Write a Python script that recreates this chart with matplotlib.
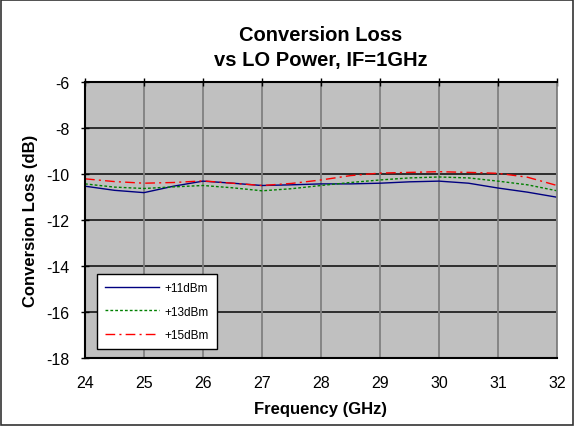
import matplotlib
matplotlib.use("Agg")
import matplotlib.pyplot as plt
from matplotlib.patches import Rectangle

freq = [24, 24.5, 25, 25.5, 26, 26.5, 27, 27.5, 28, 28.5, 29, 29.5, 30, 30.5, 31, 31.5, 32]
loss_11 = [-10.53, -10.71, -10.81, -10.53, -10.31, -10.40, -10.50, -10.47, -10.43, -10.43, -10.40, -10.34, -10.31, -10.40, -10.61, -10.79, -11.01]
loss_13 = [-10.43, -10.57, -10.63, -10.56, -10.50, -10.60, -10.73, -10.64, -10.50, -10.37, -10.26, -10.17, -10.13, -10.17, -10.31, -10.47, -10.73]
loss_15 = [-10.21, -10.33, -10.40, -10.37, -10.30, -10.40, -10.50, -10.41, -10.26, -10.07, -9.96, -9.93, -9.90, -9.93, -9.97, -10.14, -10.50]
labels = ["+11dBm", "+13dBm", "+15dBm"]
xticks = [24, 25, 26, 27, 28, 29, 30, 31, 32]
yticks = [-18, -16, -14, -12, -10, -8, -6]

plt.rcParams['font.family'] = ['Liberation Sans', 'DejaVu Sans']

fig = plt.figure(figsize=(5.74, 4.27), dpi=100)
ax = fig.add_axes([85/574, 1 - 359/427, (557 - 85)/574, (359 - 83)/427])
ax.set_facecolor('#c0c0c0')

ax.plot(freq, loss_11, color='#000080', lw=1.0, ls='-', label=labels[0])
ax.plot(freq, loss_13, color='#008000', lw=1.0, ls=(0, (2, 1.5)), label=labels[1])
ax.plot(freq, loss_15, color='#ff0000', lw=1.0, ls=(0, (7, 3, 1.5, 3)), label=labels[2])

ax.set_xlim(24, 32)
ax.set_ylim(-18, -6)
ax.set_xticks(xticks)
ax.set_yticks(yticks)
ax.set_xticklabels([str(v) for v in xticks], fontsize=11.5)
ax.set_yticklabels([str(v) for v in yticks], fontsize=11.5)

for y in yticks:
    ax.axhline(y, color='#222222', lw=1.3, zorder=1)
for x in xticks[1:]:
    ax.axvline(x, color='#808080', lw=1.3, zorder=1)

ax.tick_params(axis='y', direction='inout', length=6, width=1, left=True, pad=8)
ax.tick_params(axis='x', direction='inout', length=6, width=1, bottom=False, top=True,
               labelbottom=True, labeltop=False, pad=9)

for s in ['left', 'bottom', 'top']:
    ax.spines[s].set_color('black')
    ax.spines[s].set_linewidth(1.5)
ax.spines['right'].set_color('#808080')
ax.spines['right'].set_linewidth(1.3)

ax.set_title("Conversion Loss\nvs LO Power, IF=1GHz", fontsize=14.5, fontweight='bold', pad=12, linespacing=1.4)
ax.set_xlabel("Frequency (GHz)", fontsize=12, fontweight='bold', labelpad=8)
ax.set_ylabel("Conversion Loss (dB)", fontsize=12, fontweight='bold', labelpad=6)

leg = ax.legend(loc='lower left', bbox_to_anchor=(12/472, 9/276), fontsize=8.5, frameon=True,
                fancybox=False, edgecolor='black', framealpha=1, handlelength=4.6,
                borderpad=0.65, labelspacing=1.0, handletextpad=0.5, borderaxespad=0)
leg.get_frame().set_linewidth(1.0)

fig.patches.append(Rectangle((0.002, 0.002), 0.996, 0.996, transform=fig.transFigure,
                             fill=False, edgecolor='#333333', lw=1.2))

fig.savefig("out.png", dpi=100)
